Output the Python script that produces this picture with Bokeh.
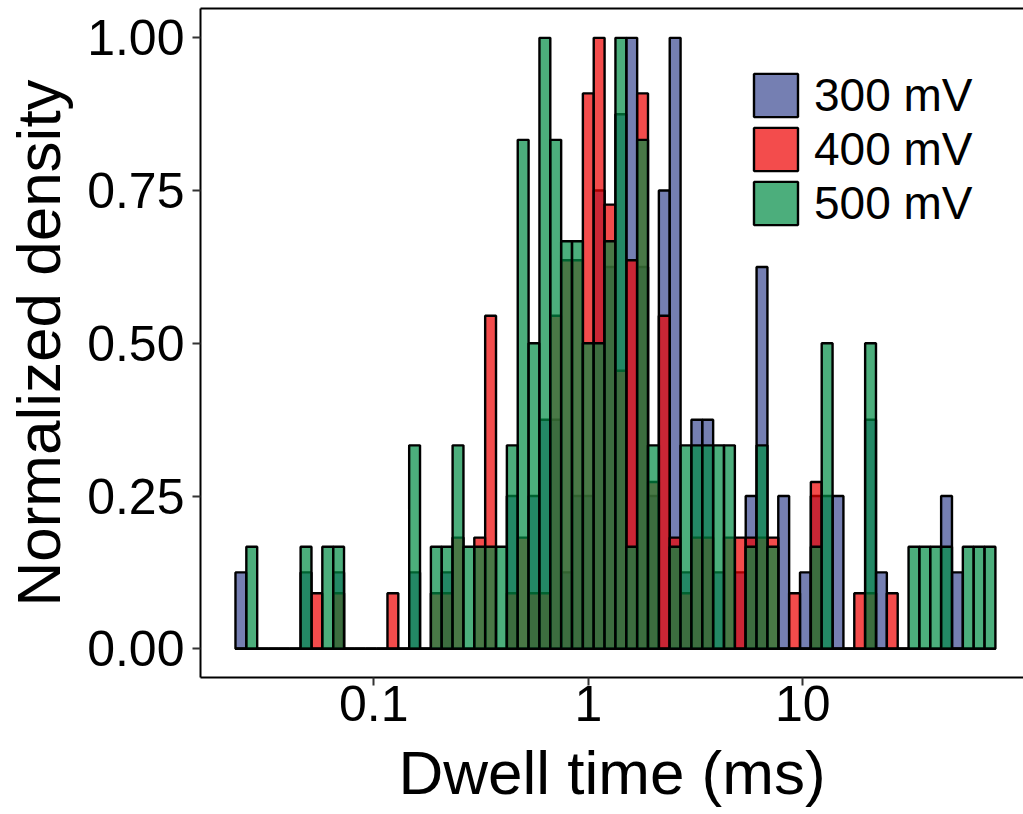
import numpy as np
from bokeh.plotting import figure
from bokeh.models import (Range1d, FixedTicker, LinearAxis, Legend, LegendItem,
                          PrintfTickFormatter)
from bokeh.embed import file_html
from bokeh.resources import INLINE

# ---- data (normalized density per log-spaced bin) ----
series_names = ["300 mV", "400 mV", "500 mV"]
series_colors = ["#3B4992", "#EE0000", "#008B45"]

# dwell-time range covered by the histogram (ms) and number of bins
bin_lo_ms = 0.02265
bin_hi_ms = 79.07
n_bins = 70

density_300 = [0.125, 0, 0, 0, 0, 0, 0.125, 0, 0, 0.125,
               0, 0, 0, 0, 0, 0, 0.125, 0, 0, 0.125,
               0, 0, 0, 0, 0, 0.25, 0, 0.25, 0.375, 0.375,
               0.125, 0.25, 0.25, 0.75, 0.625, 0.875, 1.0, 0.625, 0.25, 0.75,
               1.0, 0.125, 0.375, 0.375, 0.125, 0, 0.125, 0.25, 0.625, 0,
               0.25, 0, 0.125, 0.25, 0.25, 0.25, 0, 0, 0.375, 0.125,
               0, 0, 0, 0, 0, 0.25, 0.125, 0, 0, 0]

density_400 = [0, 0, 0, 0, 0, 0, 0, 0.091, 0, 0.091,
               0, 0, 0, 0, 0.091, 0, 0, 0, 0.091, 0.091,
               0.182, 0, 0.182, 0.545, 0, 0.091, 0.182, 0.091, 0.091, 0.545,
               0.636, 0.636, 0.909, 1.0, 0.727, 0.455, 0.636, 0.909, 0.273, 0.545,
               0.182, 0.091, 0.182, 0.182, 0, 0.182, 0.182, 0.182, 0.182, 0.182,
               0, 0.091, 0, 0.273, 0, 0, 0, 0.091, 0.091, 0,
               0.091, 0, 0, 0, 0, 0, 0, 0, 0, 0]

density_500 = [0, 0.167, 0, 0, 0, 0, 0.167, 0, 0.167, 0.167,
               0, 0, 0, 0, 0, 0, 0.333, 0, 0.167, 0.167,
               0.333, 0.167, 0.167, 0.167, 0.167, 0.333, 0.833, 0.5, 1.0, 0.833,
               0.667, 0.667, 0.5, 0.5, 0.667, 1.0, 0.167, 0.833, 0.333, 0,
               0.167, 0.333, 0.333, 0.333, 0.333, 0.333, 0, 0.167, 0.333, 0.167,
               0, 0, 0, 0.167, 0.5, 0, 0, 0, 0.5, 0,
               0, 0, 0.167, 0.167, 0.167, 0.167, 0, 0.167, 0.167, 0.167]

x_ticks = [0.1, 1, 10]
x_tick_labels = ["0.1", "1", "10"]
y_ticks = [0, 0.25, 0.5, 0.75, 1.0]
x_title = "Dwell time (ms)"
y_title = "Normalized density"

# ---- figure ----
FONT = "Liberation Sans"
edges = np.logspace(np.log10(bin_lo_ms), np.log10(bin_hi_ms), n_bins + 1)

p = figure(width=1023, height=814, x_axis_type="log",
           x_range=Range1d(0.01556, 106.9), y_range=Range1d(-0.047, 1.048),
           output_backend="svg", toolbar_location=None,
           min_border_left=200, min_border_right=0, min_border_top=8,
           min_border_bottom=137)
p.outline_line_color = None
p.xgrid.visible = False
p.ygrid.visible = False
p.background_fill_color = "white"
p.border_fill_color = "white"

renderers = []
for name, col, dens in zip(series_names, series_colors,
                           [density_300, density_400, density_500]):
    r = p.quad(left=edges[:-1], right=edges[1:], bottom=0, top=dens,
               fill_color=col, fill_alpha=0.7, line_color="black",
               line_width=2.4)
    renderers.append(r)

# axes
for ax in (p.xaxis[0], p.yaxis[0]):
    ax.axis_line_color = "black"
    ax.axis_line_width = 2
    ax.major_tick_line_color = "#333333"
    ax.major_tick_line_width = 2
    ax.major_tick_out = 8
    ax.major_tick_in = 0
    ax.minor_tick_line_color = None
    ax.major_label_text_font = FONT
    ax.major_label_text_font_size = "50px"
    ax.major_label_text_color = "black"
    ax.axis_label_text_font = FONT
    ax.axis_label_text_font_size = "62px"
    ax.axis_label_text_font_style = "normal"
    ax.axis_label_text_color = "black"

p.xaxis.ticker = FixedTicker(ticks=x_ticks)
p.xaxis.major_label_overrides = {t: l for t, l in zip(x_ticks, x_tick_labels)}
p.xaxis.axis_label = x_title
p.xaxis.major_label_standoff = 0
p.xaxis.axis_label_standoff = 14
p.xaxis.axis_label_text_line_height = 0.8
p.xaxis.major_label_text_line_height = 0.8

p.yaxis.ticker = FixedTicker(ticks=y_ticks)
p.yaxis.formatter = PrintfTickFormatter(format="%.2f")
p.yaxis.axis_label = y_title
p.yaxis.major_label_standoff = 8
p.yaxis.axis_label_standoff = 11

# top border line of the panel
top = LinearAxis(ticker=FixedTicker(ticks=[]), axis_line_width=2,
                 axis_line_color="black", major_tick_line_color=None,
                 minor_tick_line_color=None, major_label_text_font_size="0px")
p.add_layout(top, "above")

legend = Legend(items=[LegendItem(label=n, renderers=[r])
                       for n, r in zip(series_names, renderers)],
                location=(548, 447), glyph_width=55, glyph_height=54,
                spacing=0, label_standoff=11, label_text_font=FONT,
                label_text_font_size="46px", label_text_color="black",
                padding=0, margin=0, border_line_color=None,
                background_fill_alpha=0)
p.add_layout(legend)

open("out.html", "w").write(file_html(p, INLINE))
